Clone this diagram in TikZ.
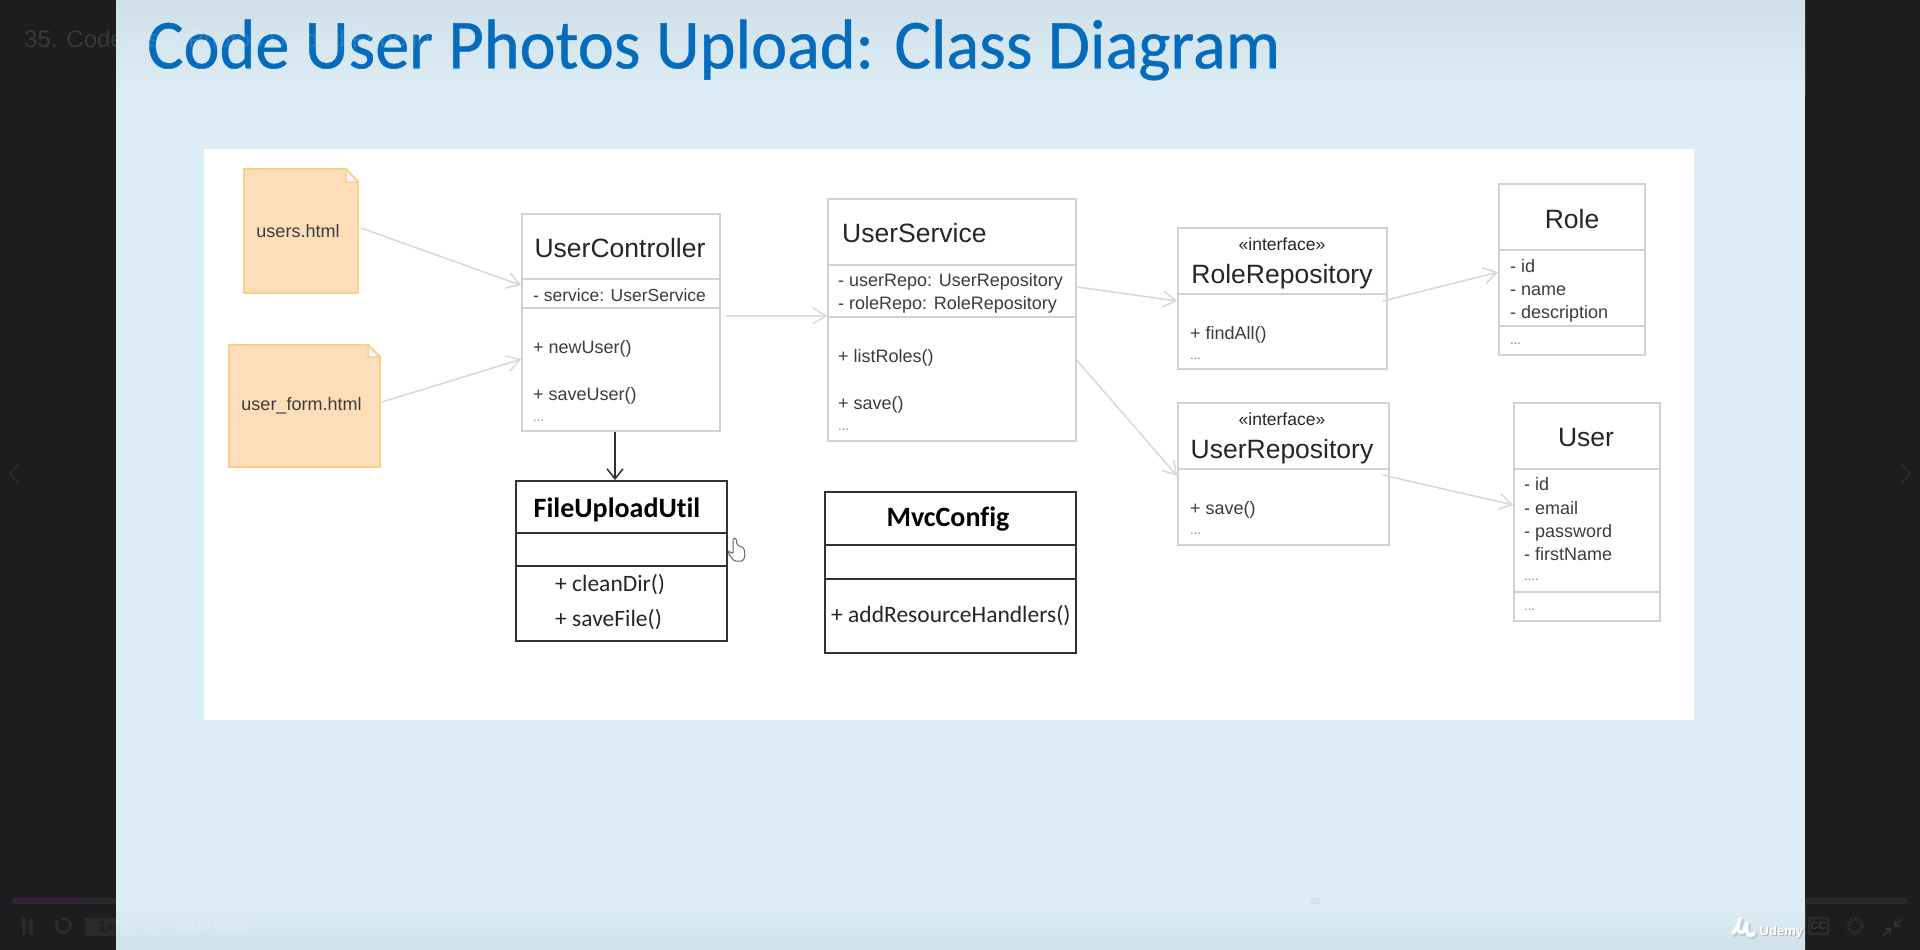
\documentclass[tikz,border=0pt]{standalone}
\usepackage{xcolor}
\usepackage{fontspec}
\setmainfont{Liberation Sans}[Ligatures=NoCommon]
\newfontfamily\slidefont{Carlito}[Ligatures=NoCommon]
\newfontfamily\titlefont{Carlito}[FakeStretch=0.975, FakeBold=0.6]
\usetikzlibrary{calc,arrows.meta}
\definecolor{UdemyDark}{RGB}{28, 29, 31}
\definecolor{SlideBlue}{RGB}{220, 237, 245}
\definecolor{SlideTop}{RGB}{207, 224, 233}
\definecolor{SlideBottom}{RGB}{207, 225, 234}
\definecolor{TitleBlue}{RGB}{5, 107, 188}
\definecolor{LightLine}{RGB}{210, 210, 210}
\definecolor{ArrowLine}{RGB}{216, 216, 216}
\definecolor{DarkLine}{RGB}{50, 50, 50}
\definecolor{NoteFill}{RGB}{254, 222, 186}
\definecolor{NoteLine}{RGB}{251, 206, 140}
\definecolor{MemberText}{RGB}{60, 60, 60}
\tikzset{
    classbox/.style={draw=LightLine, line width=1.5pt, fill=white, inner sep=0pt},
    darkbox/.style={draw=DarkLine, line width=2pt, fill=white, inner sep=0pt},
    notebox/.style={draw=NoteLine, line width=2pt, fill=NoteFill, inner sep=0pt},
    notelabel/.style={inner sep=0pt, text=MemberText, font=\fontsize{18}{20}\selectfont},
    classname/.style={text=black!85, font=\fontsize{26.5}{30}\selectfont},
    member/.style={anchor=west, inner sep=0pt, yshift=-1.5pt, text height=13.5pt, text depth=4pt, text=MemberText, font=\fontsize{18}{20}\selectfont},
    stereotype/.style={text=black!85, font=\fontsize{17.5}{20}\selectfont},
    moredots/.style={anchor=west, inner sep=0pt, text=black!50, font=\fontsize{13}{15}\selectfont},
    darkname/.style={text=black, font=\slidefont\bfseries\fontsize{28}{30}\selectfont},
    darkmember/.style={anchor=west, inner sep=0pt, text=black!85, font=\slidefont\fontsize{23.5}{28}\selectfont},
    lightarrow/.style={draw=ArrowLine, line width=1.5pt, -{Straight Barb[length=13pt,width=16pt]}},
    darkarrow/.style={draw=DarkLine, line width=1.5pt, -{Straight Barb[length=10pt,width=16pt]}},
    overlaytext/.style={text=white, text opacity=0.12, inner sep=0pt}
}

\begin{document}
\begin{tikzpicture}[x=1pt, y=-1pt]
    \useasboundingbox (0,0) rectangle (1920,950);

    % Player and slide
    \fill[UdemyDark] (0,0) rectangle (1920,950);
    \fill[SlideBlue] (116,0) rectangle (1805,950);
    \shade[top color=SlideTop, bottom color=SlideBlue] (116,0) rectangle (1805,95);
    \shade[top color=SlideBlue, bottom color=SlideBottom] (116,905) rectangle (1805,950);
    \fill[white] (204,149) rectangle (1694,720);
    \node[text=TitleBlue, font=\titlefont\fontsize{70}{80}\selectfont, anchor=west, inner sep=0pt] (slidetitle) at (147,50) {Code User Photos Upload: Class Diagram};
    \node[overlaytext, anchor=west, font=\fontsize{24}{28}\selectfont] (lecturename) at (24,41) {35. Code User Photos Upload Function};

    % Html pages
    \node[notebox, minimum width=114, minimum height=124] (usersnote) at (301,231) {};
    \fill[white] (346,167) -- (360,167) -- (360,182) -- cycle;
    \draw[draw=NoteLine, line width=1.5pt, fill=SlideBlue!50] (346,169) -- (346,182) -- (358,182) -- cycle;
    \node[notelabel] (userslabel) at (298,231) {users.html};
    \node[notebox, minimum width=151, minimum height=122] (formnote) at (304.5,406) {};
    \fill[white] (368,343) -- (382,343) -- (382,357) -- cycle;
    \draw[draw=NoteLine, line width=1.5pt, fill=SlideBlue!50] (368,345) -- (368,357) -- (380,357) -- cycle;
    \node[notelabel] (formlabel) at (301.5,406) {user\_form.html};

    % UserController
    \node[classbox, minimum width=198, minimum height=217] (ctrl) at (621,322.5) {};
    \draw[LightLine, line width=1.5pt] (522,279) -- (720,279);
    \draw[LightLine, line width=1.5pt] (522,308) -- (720,308);
    \node[classname] (ctrlname) at (620,248) {UserController};
    \node[member, font=\fontsize{17.5}{20}\selectfont] (ctrlservice) at (533,295) {- service: UserService};
    \node[member] (ctrlnew) at (533,347) {+ newUser()};
    \node[member] (ctrlsave) at (533,394) {+ saveUser()};
    \node[moredots] (ctrlmore) at (533,421) {...};

    % UserService
    \node[classbox, minimum width=248, minimum height=242] (svc) at (952,320) {};
    \draw[LightLine, line width=1.5pt] (828,265) -- (1076,265);
    \draw[LightLine, line width=1.5pt] (828,317) -- (1076,317);
    \node[classname, anchor=west, inner sep=0pt] (svcname) at (842,233) {UserService};
    \node[member] (svcuser) at (838,280) {- userRepo: UserRepository};
    \node[member] (svcrole) at (838,303) {- roleRepo: RoleRepository};
    \node[member] (svclist) at (838,356) {+ listRoles()};
    \node[member] (svcsave) at (838,403) {+ save()};
    \node[moredots] (svcmore) at (838,430) {...};

    % RoleRepository
    \node[classbox, minimum width=209, minimum height=141] (rolerepo) at (1282.5,298.5) {};
    \draw[LightLine, line width=1.5pt] (1178,294) -- (1387,294);
    \node[stereotype] (rolerepotype) at (1282,244) {«interface»};
    \node[classname] (rolereponame) at (1282,277) {RoleRepository};
    \node[member] (rolerepofind) at (1190,333) {+ findAll()};
    \node[moredots] (rolerepomore) at (1190,359) {...};

    % UserRepository
    \node[classbox, minimum width=211, minimum height=142] (userrepo) at (1283.5,474) {};
    \draw[LightLine, line width=1.5pt] (1178,469) -- (1389,469);
    \node[stereotype] (userrepotype) at (1282,419) {«interface»};
    \node[classname] (userreponame) at (1282,452) {UserRepository};
    \node[member] (userreposave) at (1190,508) {+ save()};
    \node[moredots] (userrepomore) at (1190,534) {...};

    % Role
    \node[classbox, minimum width=146, minimum height=171] (role) at (1572,269.5) {};
    \draw[LightLine, line width=1.5pt] (1499,250) -- (1645,250);
    \draw[LightLine, line width=1.5pt] (1499,326) -- (1645,326);
    \node[classname] (rolename) at (1572,219) {Role};
    \node[member] (roleid) at (1510,266) {- id};
    \node[member] (rolelabel) at (1510,289) {- name};
    \node[member] (roledesc) at (1510,312) {- description};
    \node[moredots] (rolemore) at (1510,344) {...};

    % User
    \node[classbox, minimum width=146, minimum height=218] (userbox) at (1587,512) {};
    \draw[LightLine, line width=1.5pt] (1514,469) -- (1660,469);
    \draw[LightLine, line width=1.5pt] (1514,592) -- (1660,592);
    \node[classname] (username) at (1586,438) {User};
    \node[member] (userid) at (1524,484) {- id};
    \node[member] (useremail) at (1524,508) {- email};
    \node[member] (userpass) at (1524,531) {- password};
    \node[member] (userfirst) at (1524,554) {- firstName};
    \node[moredots] (usermore) at (1524,580) {....};
    \node[moredots] (usermoretwo) at (1524,610) {...};

    % FileUploadUtil
    \node[darkbox, minimum width=211, minimum height=160] (fileupload) at (621,561) {};
    \draw[DarkLine, line width=2pt] (515,533) -- (727,533);
    \draw[DarkLine, line width=2pt] (515,566) -- (727,566);
    \node[darkname] (fileuploadname) at (617,509.5) {FileUploadUtil};
    \node[darkmember] (fileuploadclean) at (555,585) {+ cleanDir()};
    \node[darkmember] (fileuploadsave) at (555,620) {+ saveFile()};

    % MvcConfig
    \node[darkbox, minimum width=251, minimum height=161] (mvc) at (950.5,572.5) {};
    \draw[DarkLine, line width=2pt] (825,545) -- (1076,545);
    \draw[DarkLine, line width=2pt] (825,579) -- (1076,579);
    \node[darkname] (mvcname) at (948,519.5) {MvcConfig};
    \node[darkmember] (mvchandlers) at (831,616) {+ addResourceHandlers()};

    % Connectors
    \draw[lightarrow] ($(usersnote.east)+(2,-3)$) -- ($(ctrl.north west)!.33!(ctrl.south west)$);
    \draw[lightarrow] ($(formnote.east)+(1,-4)$) -- ($(ctrl.north west)!.668!(ctrl.south west)$);
    \draw[lightarrow] ($(ctrl.north east)!.47!(ctrl.south east)+(5,0)$) -- ($(svc.north west)!.483!(svc.south west)$);
    \draw[darkarrow] ($(ctrl.south)+(-6,0)$) -- ($(fileupload.north)+(-6,0)$);
    \draw[lightarrow] ($(svc.north east)!.364!(svc.south east)$) -- ($(rolerepo.north west)!.518!(rolerepo.south west)$);
    \draw[lightarrow] ($(svc.north east)!.665!(svc.south east)$) -- ($(userrepo.north west)!.514!(userrepo.south west)$);
    \draw[lightarrow] ($(rolerepo.north east)!.518!(rolerepo.south east)+(-5,0)$) -- ($(role.north west)!.515!(role.south west)$);
    \draw[lightarrow] ($(userrepo.north east)!.507!(userrepo.south east)+(-7,0)$) -- ($(userbox.north west)!.468!(userbox.south west)$);

    % Mouse pointer
    \draw[draw=black!60, fill=white, line width=1pt, rounded corners=1.5pt] (733,554) -- (729,551) -- (728,553) -- (734,561) -- (743,561) -- (745,556) -- (744,548) -- (737,545) -- (736,538) -- (733,538) -- cycle;

    % Player controls
    \fill[white, opacity=0.05] (13,898) rectangle (182,904);
    \fill[violet, opacity=0.15] (13,898) rectangle (85,904);
    \fill[black, opacity=0.04] (1310,898) rectangle (1320,904);
    \fill[white, opacity=0.05] (1805,898) rectangle (1907,904);
    \fill[white, opacity=0.06] (22,918) rectangle (26,935);
    \fill[white, opacity=0.06] (29,918) rectangle (33,935);
    \draw[white, opacity=0.08, line width=2.5pt] (58,921) arc (220:-100:7);
    \fill[white, opacity=0.06] (85,918) rectangle (133,936);
    \node[overlaytext, text=black, text opacity=0.25, font=\bfseries\fontsize{16}{18}\selectfont] (speedlabel) at (107,927) {1×};
    \draw[white, opacity=0.12, line width=2.5pt] (160,921) arc (-40:280:7);
    \node[overlaytext, anchor=west, text opacity=0.2, font=\bfseries\fontsize{14}{16}\selectfont] (timelabel) at (174,927) {2:07 / 55:55};
    \draw[white, opacity=0.07, line width=2.5pt, rounded corners=2pt] (1809,918) rectangle (1828,934);
    \node[overlaytext, font=\bfseries\fontsize{11}{13}\selectfont] (cclabel) at (1818.5,926) {CC};
    \draw[white, opacity=0.07, line width=4pt, dash pattern=on 2pt off 1.5pt] (1855,926) circle (7);
    \draw[white, opacity=0.08, line width=2pt] (1883,936) -- (1890,929) (1902,919) -- (1895,926);
    \draw[white, opacity=0.08, line width=1.5pt] (1885,929) -- (1890,929) -- (1890,934) (1895,921) -- (1895,926) -- (1900,926);
    \draw[white, opacity=0.07, line width=1.5pt] (18,465) -- (10,474) -- (18,483);
    \draw[white, opacity=0.07, line width=1.5pt] (1902,465) -- (1910,474) -- (1902,483);

    % Udemy mark
    \draw[black!30, line width=4pt, line cap=round, opacity=0.5] (1735,935) .. controls (1741,929) and (1743,917) .. (1741,923) .. controls (1737,936) and (1746,940) .. (1749,924) .. controls (1747,938) and (1752,940) .. (1756,935);
    \draw[white!90!SlideBlue, line width=3.5pt, line cap=round] (1733,933) .. controls (1739,927) and (1741,915) .. (1739,921) .. controls (1735,934) and (1744,938) .. (1747,922) .. controls (1745,936) and (1750,938) .. (1754,933);
    \node[text=black!30, anchor=west, inner sep=0pt, font=\bfseries\fontsize{13}{15}\selectfont] (udemyshadow) at (1760.5,933) {Udemy};
    \node[text=white, anchor=west, inner sep=0pt, font=\bfseries\fontsize{13}{15}\selectfont] (udemylabel) at (1759.5,932) {Udemy};
\end{tikzpicture}
\end{document}
